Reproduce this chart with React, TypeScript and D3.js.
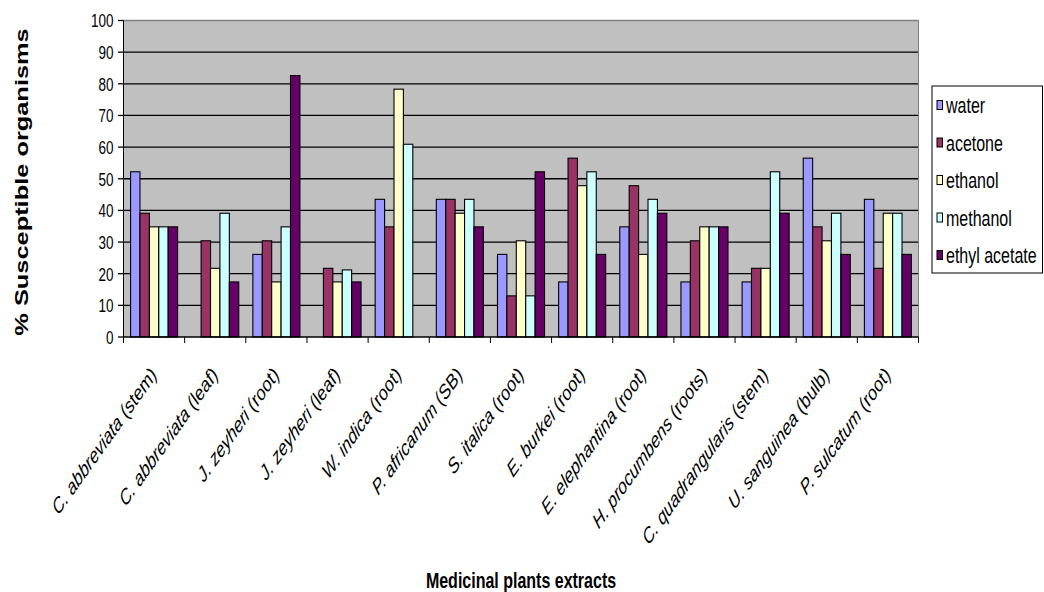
import React from "react";
import * as d3 from "d3";

// Medicinal plant extracts and the share of organisms susceptible to each solvent extract
const categories = [
  "C. abbreviata (stem)",
  "C. abbreviata (leaf)",
  "J. zeyheri (root)",
  "J. zeyheri (leaf)",
  "W. indica (root)",
  "P. africanum (SB)",
  "S. italica (root)",
  "E. burkei (root)",
  "E. elephantina (root)",
  "H. procumbens (roots)",
  "C. quadrangularis (stem)",
  "U. sanguinea (bulb)",
  "P. sulcatum (root)",
];

const water = [52.2, 0, 26.1, 0, 43.5, 43.5, 26.1, 17.4, 34.8, 17.4, 17.4, 56.5, 43.5];
const acetone = [39.1, 30.4, 30.4, 21.7, 34.8, 43.5, 13.0, 56.5, 47.8, 30.4, 21.7, 34.8, 21.7];
const ethanol = [34.8, 21.7, 17.4, 17.4, 78.3, 39.1, 30.4, 47.8, 26.1, 34.8, 21.7, 30.4, 39.1];
const methanol = [34.8, 39.1, 34.8, 21.2, 60.9, 43.5, 13.0, 52.2, 43.5, 34.8, 52.2, 39.1, 39.1];
const ethylAcetate = [34.8, 17.4, 82.6, 17.4, 0, 34.8, 52.2, 26.1, 39.1, 34.8, 39.1, 26.1, 26.1];

const seriesNames = ["water", "acetone", "ethanol", "methanol", "ethyl acetate"];
const seriesColors = ["#9999FF", "#993366", "#FFFFCC", "#CCFFFF", "#660066"];
const yTicks = [0, 10, 20, 30, 40, 50, 60, 70, 80, 90, 100];

const seriesValues = [water, acetone, ethanol, methanol, ethylAcetate];

const W = 1044;
const H = 592;
// text is drawn taller than wide, like the rest of the figure
const S = 1.41;
const FONT = "'Liberation Sans', Arial, Helvetica, sans-serif";

const plot = { left: 123.5, right: 918.5, top: 20.5, bottom: 337 };

export default function App() {
  const x = d3
    .scaleBand<string>()
    .domain(categories)
    .range([plot.left, plot.right])
    .paddingInner(0)
    .paddingOuter(0);
  const band = x.bandwidth();
  const barW = band / (seriesNames.length + 1.5);
  const xs = d3
    .scaleBand<string>()
    .domain(seriesNames)
    .range([0.75 * barW, band - 0.75 * barW]);
  const y = d3.scaleLinear().domain([0, 100]).range([plot.bottom, plot.top]);

  const boundaries = categories.map((c) => x(c)!).concat([plot.right]);

  return (
    <svg
      width={W}
      height={H}
      viewBox={`0 0 ${W} ${H}`}
      style={{ position: "absolute", left: 0, top: 0, background: "#fff" }}
      fontFamily={FONT}
    >
      {/* plot background */}
      <rect
        x={plot.left}
        y={plot.top}
        width={plot.right - plot.left}
        height={plot.bottom - plot.top}
        fill="#C0C0C0"
      />
      {/* horizontal gridlines */}
      {yTicks
        .filter((t) => t > 0 && t < 100)
        .map((t) => (
          <line
            key={`g${t}`}
            x1={plot.left}
            x2={plot.right}
            y1={y(t)}
            y2={y(t)}
            stroke="#000"
            strokeWidth={1.3}
          />
        ))}
      {/* plot border: top and right in grey */}
      <line x1={plot.left} x2={plot.right} y1={plot.top} y2={plot.top} stroke="#808080" strokeWidth={1.4} />
      <line x1={plot.right} x2={plot.right} y1={plot.top} y2={plot.bottom} stroke="#808080" strokeWidth={1} />

      {/* bars */}
      {categories.map((c, ci) => (
        <g key={c} transform={`translate(${x(c)},0)`}>
          {seriesNames.map((s, si) => {
            const v = seriesValues[si][ci];
            if (!v) return null;
            return (
              <rect
                key={s}
                x={xs(s)}
                y={y(v)}
                width={xs.bandwidth()}
                height={y(0) - y(v)}
                fill={seriesColors[si]}
                stroke="#000"
                strokeWidth={1.1}
              />
            );
          })}
        </g>
      ))}

      {/* y axis */}
      <line x1={plot.left} x2={plot.left} y1={plot.top} y2={plot.bottom} stroke="#000" strokeWidth={1} />
      {yTicks.map((t) => (
        <g key={`yt${t}`}>
          <line x1={plot.left - 5.5} x2={plot.left} y1={y(t)} y2={y(t)} stroke="#000" strokeWidth={1.3} />
          <text
            transform={`translate(${plot.left - 10},${y(t)}) scale(1,${S})`}
            textAnchor="end"
            dy="0.36em"
            fontSize={13.5}
            fill="#000"
          >
            {t}
          </text>
        </g>
      ))}

      {/* x axis */}
      <line x1={plot.left} x2={plot.right} y1={plot.bottom} y2={plot.bottom} stroke="#000" strokeWidth={1.3} />
      {boundaries.map((bx, i) => (
        <line key={`xt${i}`} x1={bx} x2={bx} y1={plot.bottom} y2={plot.bottom + 6} stroke="#000" strokeWidth={1} />
      ))}
      {categories.map((c) => {
        const k = c.indexOf(" (");
        const name = c.slice(0, k);
        const part = c.slice(k);
        const cx = x(c)! + band / 2;
        return (
          <text
            key={`xl${c}`}
            transform={`translate(${cx + 3.4},${plot.bottom + 39}) scale(1,${S}) rotate(-45)`}
            textAnchor="end"
            fontSize={15.5}
            fill="#000"
          >
            <tspan fontStyle="italic">{name}</tspan>
            <tspan>{part}</tspan>
          </text>
        );
      })}

      {/* axis titles */}
      <text
        transform={`translate(${W / 2 - 1},588) scale(1,${S})`}
        textAnchor="middle"
        fontSize={16}
        fontWeight="bold"
        fill="#000"
      >
        Medicinal plants extracts
      </text>
      <text
        transform={`translate(22,182) scale(1,${S}) rotate(-90)`}
        textAnchor="middle"
        dy="0.35em"
        fontSize={18}
        fontWeight="bold"
        fill="#000"
      >
        % Susceptible organisms
      </text>

      {/* legend */}
      <rect x={932} y={86} width={110.5} height={187} fill="#fff" stroke="#000" strokeWidth={1} />
      {seriesNames.map((s, i) => {
        const cy = 105 + i * 37.5;
        return (
          <g key={`lg${s}`}>
            <rect x={937} y={cy - 4.5} width={5.5} height={9} fill={seriesColors[i]} stroke="#000" strokeWidth={1} />
            <text
              transform={`translate(946,${cy}) scale(1,${S})`}
              dy="0.36em"
              fontSize={16}
              fill="#000"
            >
              {s}
            </text>
          </g>
        );
      })}
    </svg>
  );
}
